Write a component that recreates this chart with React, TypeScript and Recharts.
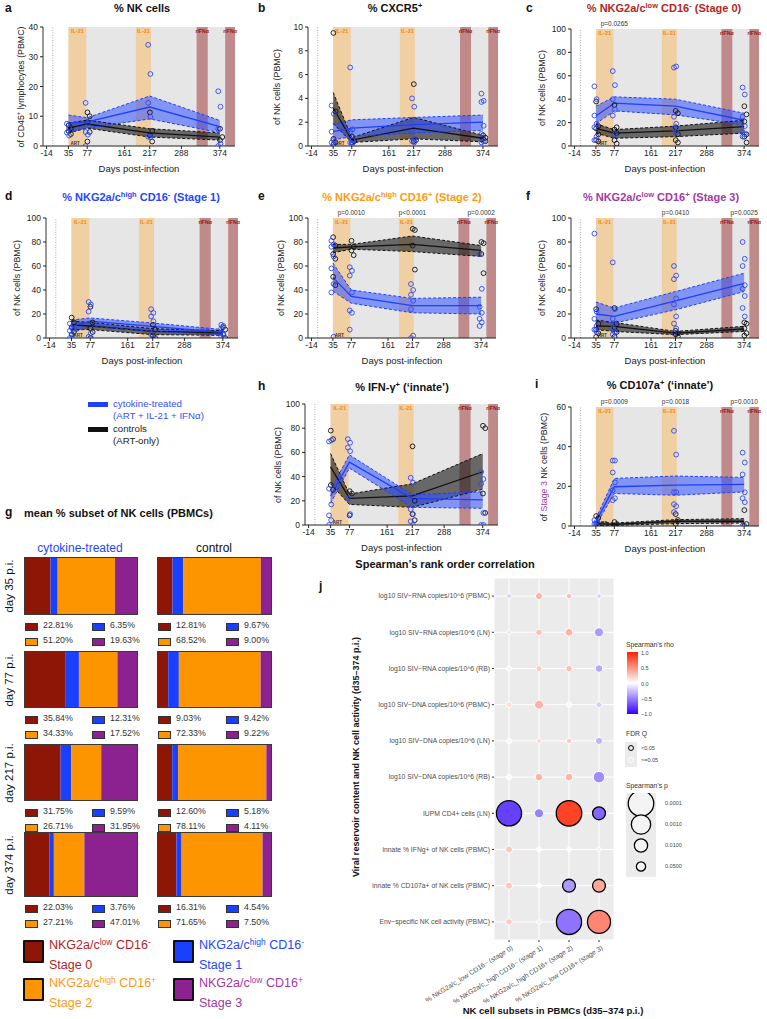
import React from "react";
import {
  ComposedChart,
  Area,
  Line,
  Scatter,
  XAxis,
  YAxis,
  ZAxis,
  ReferenceArea,
  ReferenceLine,
  ReferenceDot,
  BarChart,
  Bar,
  ScatterChart,
  CartesianGrid,
  Cell,
} from "recharts";

// ── Shared time axis ─────────────────────────────────────────────────────────

const daysPI = [35, 77, 217, 374];
const dayTicks = [-14, 35, 77, 161, 217, 288, 374];
const pDays = [77, 217, 374];
const il21Windows = [[35, 75], [186, 220]];
const ifnWindows = [[322, 347], [386, 408]];

// ── a: % NK cells ────────────────────────────────────────────────────────────
const aTreatedMean = [7.7, 8.1, 13.1, 6.5];
const aTreatedLo = [4.7, 6.0, 9.1, 4.5];
const aTreatedHi = [10.4, 9.5, 16.8, 8.6];
const aControlMean = [6.0, 7.4, 4.4, 3.0];
const aControlLo = [4.4, 6.0, 3.0, 2.0];
const aControlHi = [7.7, 8.7, 5.8, 4.4];
const aTreatedPts = [[7.5, 6, 4.5, 3.5], [14.5, 7.7, 4.7, 3.8, 0], [34, 24.2, 14.5, 9.8, 3.1, 3], [18.4, 13.2, 5.8, 0.8, 0]];
const aControlPts = [[7, 6, 5, 4], [11.3, 10, 8, 4.7, 1.5], [11.3, 5.1, 3.6, 1.5], [5.8, 3, 2]];

// ── b: % CXCR5+ ─────────────────────────────────────────────────────────────
const bTreatedMean = [1.2, 1.5, 1.8, 2.0];
const bTreatedLo = [0.5, 0.8, 1.1, 1.3];
const bTreatedHi = [1.8, 2.2, 2.4, 2.6];
const bControlMean = [3.2, 0.5, 1.5, 0.65];
const bControlLo = [1.9, 0.3, 0.6, 0.35];
const bControlHi = [4.5, 0.7, 2.4, 0.9];
const bTreatedPts = [[3.4, 2.7, 1.2, 0.5, 0.3, 0.2], [6.6, 1.4, 1.2, 0.5, 0.3, 0.2], [4.0, 3.3, 1.2, 0.6, 0.4, 0.3], [4.4, 3.8, 3.7, 1.7, 1.0, 0.4, 0.3]];
const bControlPts = [[9.5, 2.9, 0.6, 0.3, 0.1], [0.8, 0.4, 0.3], [5.2, 0.5, 0.4], [0.9, 0.7, 0.6, 0.4]];

// ── c: Stage 0 ───────────────────────────────────────────────────────────────
const cTreatedMean = [25.7, 36.6, 34, 22];
const cTreatedLo = [19, 30, 26.6, 18];
const cTreatedHi = [34, 42, 40, 28];
const cControlMean = [15, 11, 13, 16.6];
const cControlLo = [11, 6.6, 8, 11];
const cControlHi = [19, 14, 17, 22];
const cTreatedPts = [[51, 40, 26, 19, 16, 8, 5], [64, 52, 40, 31, 26, 10], [67, 68, 25, 19, 15, 12], [50, 44, 25, 17, 12, 10, 8]];
const cControlPts = [[38, 17, 15, 10, 5, 4], [35, 16, 14, 11, 5, 2], [30, 28, 16, 10, 5, 3], [34, 27, 21, 10, 8, 3]];
const cPvals = ["p=0.0265", "", ""];

// ── d: Stage 1 ───────────────────────────────────────────────────────────────
const dTreatedMean = [9.7, 14, 9.7, 4.7];
const dTreatedLo = [4, 9.7, 5.5, 2.8];
const dTreatedHi = [15, 16.7, 12.5, 7];
const dControlMean = [11, 10, 5.5, 4.2];
const dControlLo = [7, 7, 2.8, 2.2];
const dControlHi = [14, 13, 7.8, 6];
const dTreatedPts = [[12, 8, 6, 3, 0, 0], [30, 28, 22, 4, 1, 0], [24, 21, 18, 14, 3, 0], [11, 10, 8, 3, 1, 0]];
const dControlPts = [[17, 13, 9, 5, 3], [26, 13, 8, 5, 0], [11, 7, 2, 0], [9, 7, 3, 0]];

// ── e: Stage 2 ───────────────────────────────────────────────────────────────
const eTreatedMean = [50.5, 34.7, 27, 27];
const eTreatedLo = [39, 29, 21, 20];
const eTreatedHi = [62.5, 40, 33, 34];
const eControlMean = [75, 76, 78, 73];
const eControlLo = [71, 74, 72, 68];
const eControlHi = [78, 78, 85, 77];
const eTreatedPts = [[81, 78, 76, 68, 58, 45, 38, 1], [59, 56, 52, 38, 23, 21, 7], [45, 40, 36, 31, 24, 2, 0], [70, 41, 26, 21, 16, 13, 10]];
const eControlPts = [[84, 77, 70, 66, 51, 44], [81, 76, 73, 69], [91, 90, 77, 57], [80, 79, 70, 54]];
const ePvals = ["p=0.0010", "p<0.0001", "p=0.0002"];

// ── f: Stage 3 ───────────────────────────────────────────────────────────────
const fTreatedMean = [20, 18, 31, 45.6];
const fTreatedLo = [14, 12.4, 23.5, 38.7];
const fTreatedHi = [30, 25, 38.7, 54];
const fControlMean = [10, 9.7, 4, 7.5];
const fControlLo = [7, 5.5, 2.8, 5.5];
const fControlHi = [15, 13, 5.5, 9.7];
const fTreatedPts = [[87, 22, 16, 10, 7, 5], [63, 24, 16, 12, 8, 5, 3], [60, 52, 49, 33, 28, 18, 12, 8, 4], [80, 66, 60, 44, 41, 35, 25, 18]];
const fControlPts = [[24, 12, 7, 4, 1], [25, 12, 9, 5, 1], [6, 4, 3, 1], [13, 12, 8, 4, 2]];
const fPvals = ["", "p=0.0410", "p=0.0025"];

// ── h: IFN-γ+ ────────────────────────────────────────────────────────────────
const hTreatedMean = [24, 52, 22, 20.7];
const hTreatedLo = [18, 47, 14.6, 13.8];
const hTreatedHi = [29, 58, 25, 27.5];
const hControlMean = [48, 22, 24, 44];
const hControlLo = [34, 17, 14.6, 29.5];
const hControlHi = [59, 25.6, 34, 59];
const hTreatedPts = [[69, 70, 30, 17, 8, 4, 0], [71, 68, 64, 61, 22, 9], [39, 35, 13, 9, 3, 0], [44, 38, 34, 10, 0, 0]];
const hControlPts = [[78, 71, 33, 29], [28, 26, 8], [65, 20, 9, 4], [82, 80, 26, 10]];

// ── i: CD107a+ ───────────────────────────────────────────────────────────────
const iTreatedMean = [2, 19.8, 20.6, 21];
const iTreatedLo = [0.3, 16.4, 15.5, 17.2];
const iTreatedHi = [3.7, 24, 25.2, 24.5];
const iControlMean = [1.2, 0.8, 2.4, 2.4];
const iControlLo = [0.3, 0.3, 1.2, 1.5];
const iControlHi = [2, 1.5, 3.2, 3.7];
const iTreatedPts = [[3, 2, 1, 0], [33, 33, 27, 22, 18, 14, 13], [48, 36, 17, 17, 11, 10, 7], [37, 32, 26, 17, 14, 12, 0]];
const iControlPts = [[5, 4, 1, 0], [2, 1, 0], [6, 3, 1], [8, 1, 0]];
const iPvals = ["p=0.0009", "p=0.0018", "p=0.0010"];

// ── g: mean % subset (days 35, 77, 217, 374) ─────────────────────────────────
const subsetDays = ["day 35 p.i.", "day 77 p.i.", "day 217 p.i.", "day 374 p.i."];
const treatedStage0 = [22.81, 35.84, 31.75, 22.03];
const treatedStage1 = [6.35, 12.31, 9.59, 3.76];
const treatedStage2 = [51.2, 34.33, 26.71, 27.21];
const treatedStage3 = [19.63, 17.52, 31.95, 47.01];
const controlStage0 = [12.81, 9.03, 12.6, 16.31];
const controlStage1 = [9.67, 9.42, 5.18, 4.54];
const controlStage2 = [68.52, 72.33, 78.11, 71.65];
const controlStage3 = [9.0, 9.22, 4.11, 7.5];

// ── j: Spearman correlation ──────────────────────────────────────────────────
const corrRowLabels = [
  "log10 SIV\u2212RNA copies/10^6 (PBMC)",
  "log10 SIV\u2212RNA copies/10^6 (LN)",
  "log10 SIV\u2212RNA copies/10^6 (RB)",
  "log10 SIV\u2212DNA copies/10^6 (PBMC)",
  "log10 SIV\u2212DNA copies/10^6 (LN)",
  "log10 SIV\u2212DNA copies/10^6 (RB)",
  "IUPM CD4+ cells (LN)",
  "innate % IFNg+ of NK cells (PBMC)",
  "innate % CD107a+ of NK cells (PBMC)",
  "Env\u2212specific NK cell activity (PBMC)",
];
const corrColLabels = [
  "% NKG2a/c_low CD16\u2212 (stage 0)",
  "% NKG2a/c_high CD16\u2212 (stage 1)",
  "% NKG2a/c_high CD16+ (stage 2)",
  "% NKG2a/c_low CD16+ (stage 3)",
];
const rhoStage0 = [-0.2, -0.1, 0.05, 0.15, 0.03, 0.03, -0.75, 0.25, 0.25, 0.25];
const rhoStage1 = [0.35, 0.3, 0.25, 0.35, 0.2, 0.35, -0.5, 0.02, 0.02, 0.08];
const rhoStage2 = [0.3, 0.35, 0.3, 0.05, 0.25, 0.35, 0.85, 0.02, -0.4, -0.55];
const rhoStage3 = [-0.2, -0.4, -0.35, -0.2, -0.3, -0.45, -0.6, -0.05, 0.4, 0.55];
const pStage0 = [0.5, 0.9, 0.3, 0.22, 0.3, 0.3, 0.00008, 0.11, 0.11, 0.16];
const pStage1 = [0.12, 0.16, 0.22, 0.05, 0.5, 0.09, 0.048, 0.5, 0.5, 0.5];
const pStage2 = [0.26, 0.087, 0.16, 0.3, 0.3, 0.09, 0.00007, 0.5, 0.01, 0.00008];
const pStage3 = [0.5, 0.048, 0.09, 0.22, 0.11, 0.017, 0.01, 0.8, 0.01, 0.00018];
const fdrStage0 = [0, 0, 0, 0, 0, 0, 1, 0, 0, 0];
const fdrStage1 = [0, 0, 0, 0, 0, 0, 0, 0, 0, 0];
const fdrStage2 = [0, 0, 0, 0, 0, 0, 1, 0, 1, 1];
const fdrStage3 = [0, 0, 0, 0, 0, 0, 1, 0, 1, 1];
const sizeLegendP = [0.0001, 0.001, 0.01, 0.05];

// ── Styling ──────────────────────────────────────────────────────────────────

const FONT = '"Liberation Sans", Arial, Helvetica, sans-serif';
const BLUE = "#1f3fff";
const BLACK = "#111111";
const stageColors = ["#8e1607", "#1a40ff", "#fd9500", "#8c2290"];
const stageTextColors = ["#b3261e", "#2447ff", "#ff9a14", "#a3399f"];
const X_MIN = -22;
const X_MAX = 408;
const ML = 46, MT = 30, MB = 40, MR = 12;

function Sup({ children }: { children: React.ReactNode }) {
  return <span style={{ fontSize: "0.68em", verticalAlign: "0.55em" }}>{children}</span>;
}

function T({ x, y, children, style, anchor = 0 }: { x: number; y: number; children: React.ReactNode; style?: React.CSSProperties; anchor?: number }) {
  return (
    <div style={{ position: "absolute", left: x, top: y, transform: `translate(${-anchor * 100}%, -50%)`, whiteSpace: "nowrap", lineHeight: 1.1, ...style }}>
      {children}
    </div>
  );
}

function VT({ x, y, children, style }: { x: number; y: number; children: React.ReactNode; style?: React.CSSProperties }) {
  return (
    <div style={{ position: "absolute", left: x, top: y, width: 0, height: 0 }}>
      <div style={{ position: "absolute", left: 0, top: 0, transform: "translate(-50%, -50%) rotate(-90deg)", whiteSpace: "nowrap", lineHeight: 1.1, ...style }}>
        {children}
      </div>
    </div>
  );
}

// ── Time-course panel ────────────────────────────────────────────────────────

interface PanelSpec {
  letter: string; letterX: number; letterY: number;
  title: React.ReactNode; titleColor: string; titleX: number; titleY: number;
  plotLeft: number; plotTop: number; plotW: number; plotH: number;
  yMax: number; yTicks: number[]; yTitle: React.ReactNode; yTitleGap: number;
  tMean: number[]; tLo: number[]; tHi: number[];
  cMean: number[]; cLo: number[]; cHi: number[];
  tPts: number[][]; cPts: number[][]; pLabels: string[];
}

function spread(groups: number[][], shift: number) {
  const out: { x: number; y: number }[] = [];
  groups.forEach((vals, t) =>
    vals.forEach((v, k) => out.push({ x: daysPI[t] + shift + (k % 2 ? 2.5 : -2.5), y: v }))
  );
  return out;
}

const openCircle = (color: string) => (p: any) =>
  <circle cx={p.cx} cy={p.cy} r={2.4} fill="none" stroke={color} strokeWidth={0.9} />;

function TimePanel({ s }: { s: PanelSpec }) {
  const rows = daysPI.map((d, i) => ({
    x: d,
    tMean: s.tMean[i], tLo: s.tLo[i], tHi: s.tHi[i], tBand: [s.tLo[i], s.tHi[i]],
    cMean: s.cMean[i], cLo: s.cLo[i], cHi: s.cHi[i], cBand: [s.cLo[i], s.cHi[i]],
  }));
  const tPts = spread(s.tPts, -1);
  const cPts = spread(s.cPts, 3);
  const W = ML + s.plotW + MR;
  const H = MT + s.plotH + MB;
  const tick = { fontSize: 8.5, fill: "#222", fontFamily: FONT };
  return (
    <>
      <T x={s.letterX} y={s.letterY} style={{ fontWeight: 700, fontSize: 12 }}>{s.letter}</T>
      <T x={s.titleX} y={s.titleY} anchor={0.5} style={{ fontWeight: 700, fontSize: 11, color: s.titleColor }}>{s.title}</T>
      <VT x={s.plotLeft - s.yTitleGap} y={s.plotTop + s.plotH / 2} style={{ fontSize: 8.8, color: "#222" }}>{s.yTitle}</VT>
      <div style={{ position: "absolute", left: s.plotLeft - ML, top: s.plotTop - MT }}>
        <ComposedChart width={W} height={H} data={rows} margin={{ top: MT, right: MR, bottom: 0, left: 0 }}>
          <XAxis
            type="number" dataKey="x" domain={[X_MIN, X_MAX]} ticks={dayTicks} interval={0} allowDataOverflow
            height={MB} tickSize={3} tickMargin={1} tick={tick}
            axisLine={{ stroke: "#222" }} tickLine={{ stroke: "#222" }}
            label={{ value: "Days post-infection", position: "insideBottom", offset: 14, fontSize: 9.5, fill: "#222", fontFamily: FONT }}
          />
          <YAxis
            type="number" domain={[0, s.yMax]} ticks={s.yTicks} interval={0} allowDataOverflow
            width={ML} tickSize={3} tick={tick} axisLine={{ stroke: "#333" }} tickLine={{ stroke: "#222" }}
          />
          <ReferenceArea x1={35} x2={X_MAX} y1={0} y2={s.yMax} fill="#e6e6e6" fillOpacity={1} stroke="none" />
          {il21Windows.map(([a, b], k) => (
            <ReferenceArea key={"il" + k} x1={a} x2={b} y1={0} y2={s.yMax} fill="#f0cfa3" fillOpacity={1} stroke="none"
              label={{ value: "IL-21", position: "insideTop", offset: 2, fill: "#f08a0c", fontSize: 5.5, fontWeight: 700, fontFamily: FONT }} />
          ))}
          {ifnWindows.map(([a, b], k) => (
            <ReferenceArea key={"ifn" + k} x1={a} x2={b} y1={0} y2={s.yMax} fill="#bf8a89" fillOpacity={1} stroke="none"
              label={{ value: "rIFN\u03b1", position: "insideTop", offset: 2, fill: "#951717", fontSize: 5.2, fontWeight: 700, fontFamily: FONT }} />
          ))}
          <ReferenceLine x={0} stroke="#9a9a9a" strokeWidth={0.8} strokeDasharray="1 1.5" />
          <ReferenceDot x={50} y={0} r={0.1} fill="none" stroke="none"
            label={{ value: "ART", position: "top", offset: 1, fontSize: 4.5, fontWeight: 700, fill: "#333", fontFamily: FONT }} />
          <Area type="linear" dataKey="cBand" fill="#1a1a1a" fillOpacity={0.62} stroke="none" isAnimationActive={false} />
          <Area type="linear" dataKey="tBand" fill="#3050ff" fillOpacity={0.55} stroke="none" isAnimationActive={false} />
          <Line type="linear" dataKey="cHi" stroke={BLACK} strokeWidth={1} strokeDasharray="3 2" dot={false} isAnimationActive={false} />
          <Line type="linear" dataKey="cLo" stroke={BLACK} strokeWidth={1} strokeDasharray="3 2" dot={false} isAnimationActive={false} />
          <Line type="linear" dataKey="cMean" stroke={BLACK} strokeWidth={1.3} dot={false} isAnimationActive={false} />
          <Line type="linear" dataKey="tHi" stroke={BLUE} strokeWidth={1} strokeDasharray="3 2" dot={false} isAnimationActive={false} />
          <Line type="linear" dataKey="tLo" stroke={BLUE} strokeWidth={1} strokeDasharray="3 2" dot={false} isAnimationActive={false} />
          <Line type="linear" dataKey="tMean" stroke={BLUE} strokeWidth={1.3} dot={false} isAnimationActive={false} />
          <Scatter data={cPts} dataKey="y" shape={openCircle("#111")} isAnimationActive={false} />
          <Scatter data={tPts} dataKey="y" shape={openCircle("#2a48ff")} isAnimationActive={false} />
          {s.pLabels.map((p, k) =>
            p ? (
              <ReferenceDot key={"p" + k} x={pDays[k]} y={s.yMax} r={0.1} fill="none" stroke="none"
                label={{ value: p, position: "top", offset: 3, fontSize: 6.5, fill: "#333", fontFamily: FONT }} />
            ) : null
          )}
        </ComposedChart>
      </div>
    </>
  );
}

const yNK = "of NK cells (PBMC)";
const t100 = [0, 20, 40, 60, 80, 100];

const panels: PanelSpec[] = [
  {
    letter: "a", letterX: 5, letterY: 9, title: "% NK cells", titleColor: "#111", titleX: 142, titleY: 8,
    plotLeft: 43, plotTop: 27, plotW: 192, plotH: 119, yMax: 40, yTicks: [0, 10, 20, 30, 40],
    yTitle: <span>of CD45<Sup>+</Sup> lymphocytes (PBMC)</span>, yTitleGap: 22,
    tMean: aTreatedMean, tLo: aTreatedLo, tHi: aTreatedHi, cMean: aControlMean, cLo: aControlLo, cHi: aControlHi,
    tPts: aTreatedPts, cPts: aControlPts, pLabels: [],
  },
  {
    letter: "b", letterX: 258, letterY: 9, title: <span>% CXCR5<Sup>+</Sup></span>, titleColor: "#111", titleX: 395, titleY: 8,
    plotLeft: 308, plotTop: 27, plotW: 190, plotH: 119, yMax: 10, yTicks: [0, 2, 4, 6, 8, 10],
    yTitle: yNK, yTitleGap: 30,
    tMean: bTreatedMean, tLo: bTreatedLo, tHi: bTreatedHi, cMean: bControlMean, cLo: bControlLo, cHi: bControlHi,
    tPts: bTreatedPts, cPts: bControlPts, pLabels: [],
  },
  {
    letter: "c", letterX: 526, letterY: 9, title: <span>% NKG2a/c<Sup>low</Sup> CD16<Sup>-</Sup> (Stage 0)</span>, titleColor: "#b3261e", titleX: 664, titleY: 8,
    plotLeft: 571, plotTop: 29, plotW: 188, plotH: 117, yMax: 100, yTicks: t100,
    yTitle: yNK, yTitleGap: 28,
    tMean: cTreatedMean, tLo: cTreatedLo, tHi: cTreatedHi, cMean: cControlMean, cLo: cControlLo, cHi: cControlHi,
    tPts: cTreatedPts, cPts: cControlPts, pLabels: cPvals,
  },
  {
    letter: "d", letterX: 5, letterY: 197, title: <span>% NKG2a/c<Sup>high</Sup> CD16<Sup>-</Sup> (Stage 1)</span>, titleColor: "#2447ff", titleX: 141, titleY: 197,
    plotLeft: 46, plotTop: 218, plotW: 192, plotH: 120, yMax: 100, yTicks: t100,
    yTitle: yNK, yTitleGap: 28,
    tMean: dTreatedMean, tLo: dTreatedLo, tHi: dTreatedHi, cMean: dControlMean, cLo: dControlLo, cHi: dControlHi,
    tPts: dTreatedPts, cPts: dControlPts, pLabels: [],
  },
  {
    letter: "e", letterX: 258, letterY: 197, title: <span>% NKG2a/c<Sup>high</Sup> CD16<Sup>+</Sup> (Stage 2)</span>, titleColor: "#ff9a14", titleX: 402, titleY: 197,
    plotLeft: 308, plotTop: 218, plotW: 188, plotH: 120, yMax: 100, yTicks: t100,
    yTitle: yNK, yTitleGap: 26,
    tMean: eTreatedMean, tLo: eTreatedLo, tHi: eTreatedHi, cMean: eControlMean, cLo: eControlLo, cHi: eControlHi,
    tPts: eTreatedPts, cPts: eControlPts, pLabels: ePvals,
  },
  {
    letter: "f", letterX: 526, letterY: 197, title: <span>% NKG2a/c<Sup>low</Sup> CD16<Sup>+</Sup> (Stage 3)</span>, titleColor: "#a3399f", titleX: 661, titleY: 197,
    plotLeft: 571, plotTop: 218, plotW: 188, plotH: 120, yMax: 100, yTicks: t100,
    yTitle: yNK, yTitleGap: 28,
    tMean: fTreatedMean, tLo: fTreatedLo, tHi: fTreatedHi, cMean: fControlMean, cLo: fControlLo, cHi: fControlHi,
    tPts: fTreatedPts, cPts: fControlPts, pLabels: fPvals,
  },
  {
    letter: "h", letterX: 258, letterY: 387, title: <span>% IFN-{"\u03b3"}<Sup>+</Sup> ({"\u2018"}innate{"\u2019"})</span>, titleColor: "#111", titleX: 402, titleY: 387,
    plotLeft: 305, plotTop: 404, plotW: 193, plotH: 121, yMax: 100, yTicks: t100,
    yTitle: yNK, yTitleGap: 26,
    tMean: hTreatedMean, tLo: hTreatedLo, tHi: hTreatedHi, cMean: hControlMean, cLo: hControlLo, cHi: hControlHi,
    tPts: hTreatedPts, cPts: hControlPts, pLabels: [],
  },
  {
    letter: "i", letterX: 535, letterY: 385, title: <span>% CD107a<Sup>+</Sup> ({"\u2018"}innate{"\u2019"})</span>, titleColor: "#111", titleX: 660, titleY: 385,
    plotLeft: 571, plotTop: 407, plotW: 188, plotH: 119, yMax: 60, yTicks: [0, 20, 40, 60],
    yTitle: <span>of <span style={{ color: "#a3399f" }}>Stage 3</span> NK cells (PBMC)</span>, yTitleGap: 26,
    tMean: iTreatedMean, tLo: iTreatedLo, tHi: iTreatedHi, cMean: iControlMean, cLo: iControlLo, cHi: iControlHi,
    tPts: iTreatedPts, cPts: iControlPts, pLabels: iPvals,
  },
];

// ── g: stacked subset bars ───────────────────────────────────────────────────

const stageKeys = ["s0", "s1", "s2", "s3"];
const barTops = [558, 652, 745, 833];
const barHeights = [56, 55, 55, 63];

function SubsetBar({ values, width, height }: { values: number[]; width: number; height: number }) {
  const data = [{ name: "mean", s0: values[0], s1: values[1], s2: values[2], s3: values[3] }];
  return (
    <BarChart width={width} height={height} data={data} layout="vertical" margin={{ top: 0, right: 0, bottom: 0, left: 0 }} barCategoryGap={0}>
      <XAxis type="number" domain={[0, 100]} allowDataOverflow hide />
      <YAxis type="category" dataKey="name" hide />
      {stageKeys.map((k, i) => (
        <Bar key={k} dataKey={k} stackId="a" fill={stageColors[i]} isAnimationActive={false} />
      ))}
    </BarChart>
  );
}

function PctItem({ x, y, color, value }: { x: number; y: number; color: string; value: number }) {
  return (
    <>
      <div style={{ position: "absolute", left: x, top: y - 3.5, width: 11, height: 6, background: color, border: "1px solid #333" }} />
      <T x={x + 18} y={y} style={{ fontSize: 8.8, color: "#333" }}>{value.toFixed(2)}%</T>
    </>
  );
}

function SubsetPanel() {
  const groups = [
    { left: 25, width: 112, stages: [treatedStage0, treatedStage1, treatedStage2, treatedStage3], col2: 92 },
    { left: 158, width: 113, stages: [controlStage0, controlStage1, controlStage2, controlStage3], col2: 226 },
  ];
  return (
    <>
      <T x={5} y={513} style={{ fontWeight: 700, fontSize: 12 }}>g</T>
      <T x={24} y={513} style={{ fontWeight: 700, fontSize: 11 }}>mean % subset of NK cells (PBMCs)</T>
      <T x={80} y={549} anchor={0.5} style={{ fontSize: 12, color: "#2447ff" }}>cytokine-treated</T>
      <T x={214} y={549} anchor={0.5} style={{ fontSize: 12, color: "#111" }}>control</T>
      {subsetDays.map((label, d) => (
        <VT key={label} x={9} y={barTops[d] + barHeights[d] / 2} style={{ fontSize: 11.5, color: "#111" }}>{label}</VT>
      ))}
      {groups.map((g, gi) =>
        subsetDays.map((_, d) => {
          const vals = g.stages.map((arr) => arr[d]);
          const bottom = barTops[d] + barHeights[d];
          return (
            <React.Fragment key={gi + "-" + d}>
              <div style={{ position: "absolute", left: g.left, top: barTops[d], height: barHeights[d], outline: "1.3px solid #3a3a3a" }}>
                <SubsetBar values={vals} width={g.width} height={barHeights[d]} />
              </div>
              <PctItem x={g.left} y={bottom + 12} color={stageColors[0]} value={vals[0]} />
              <PctItem x={g.col2} y={bottom + 12} color={stageColors[1]} value={vals[1]} />
              <PctItem x={g.left} y={bottom + 27} color={stageColors[2]} value={vals[2]} />
              <PctItem x={g.col2} y={bottom + 27} color={stageColors[3]} value={vals[3]} />
            </React.Fragment>
          );
        })
      )}
      {[
        { x: 23, y: 940, i: 0, l1: <span>NKG2a/c<Sup>low</Sup> CD16<Sup>-</Sup></span> },
        { x: 173, y: 940, i: 1, l1: <span>NKG2a/c<Sup>high</Sup> CD16<Sup>-</Sup></span> },
        { x: 23, y: 978, i: 2, l1: <span>NKG2a/c<Sup>high</Sup> CD16<Sup>+</Sup></span> },
        { x: 173, y: 978, i: 3, l1: <span>NKG2a/c<Sup>low</Sup> CD16<Sup>+</Sup></span> },
      ].map((it) => (
        <React.Fragment key={it.i}>
          <div style={{ position: "absolute", left: it.x, top: it.y, width: 17, height: 19, background: stageColors[it.i], border: "2px solid #111", borderRadius: 1 }} />
          <T x={it.x + 26} y={it.y + 5} style={{ fontSize: 12.5, color: stageTextColors[it.i] }}>{it.l1}</T>
          <T x={it.x + 26} y={it.y + 26} style={{ fontSize: 12.5, color: stageTextColors[it.i] }}>Stage {it.i}</T>
        </React.Fragment>
      ))}
    </>
  );
}

// ── j: bubble correlation matrix ─────────────────────────────────────────────

function rhoColor(r: number) {
  const t = Math.min(1, Math.abs(r));
  const end = r >= 0 ? [255, 34, 0] : [51, 0, 255];
  const c = end.map((e) => Math.round(255 + (e - 255) * t));
  return `rgb(${c.join(",")})`;
}

const pToZ = (p: number) => Math.pow(Math.log10(1 / p), 2);

const corrData: { col: number; row: number; rho: number; z: number; sig: number }[] = [];
[rhoStage0, rhoStage1, rhoStage2, rhoStage3].forEach((rhos, c) => {
  const ps = [pStage0, pStage1, pStage2, pStage3][c];
  const sig = [fdrStage0, fdrStage1, fdrStage2, fdrStage3][c];
  rhos.forEach((rho, r) => corrData.push({ col: c + 1, row: r + 1, rho, z: pToZ(ps[r]), sig: sig[r] }));
});

const sizeLegendData = sizeLegendP.map((p, k) => ({ col: 1, row: k + 1, z: pToZ(p) }));

function ColTick(props: any) {
  const { x, y, payload } = props;
  return (
    <g transform={`translate(${x + 3},${y + 3})`}>
      <text transform="rotate(-32)" textAnchor="end" dy="0.35em" fontSize={6.8} fill="#4d4d4d" fontFamily={FONT}>
        {corrColLabels[payload.value - 1]}
      </text>
    </g>
  );
}

function RowTick(props: any) {
  const { x, y, payload } = props;
  return (
    <text x={x} y={y} dy="0.35em" textAnchor="end" fontSize={6.8} fill="#4d4d4d" fontFamily={FONT}>
      {corrRowLabels[payload.value - 1]}
    </text>
  );
}

function SizeTick(props: any) {
  const { x, y, payload } = props;
  return (
    <text x={x} y={y} dy="0.35em" textAnchor="start" fontSize={5.5} fill="#444" fontFamily={FONT}>
      {sizeLegendP[payload.value - 1].toFixed(4)}
    </text>
  );
}

function CorrPanel() {
  return (
    <>
      <T x={445} y={564} anchor={0.5} style={{ fontWeight: 700, fontSize: 11 }}>Spearman{"\u2019"}s rank order correlation</T>
      <T x={319} y={587} style={{ fontWeight: 700, fontSize: 12 }}>j</T>
      <VT x={357} y={757} style={{ fontWeight: 700, fontSize: 9 }}>Viral reservoir content and NK cell activity (d35{"\u2013"}374 p.i.)</VT>
      <T x={553} y={1011} anchor={0.5} style={{ fontWeight: 700, fontSize: 9.5 }}>NK cell subsets in PBMCs (d35{"\u2013"}374 p.i.)</T>
      <div style={{ position: "absolute", left: 270, top: 560 }}>
        <ScatterChart width={360} height={459} margin={{ top: 18, right: 16, bottom: 14, left: 0 }}>
          <CartesianGrid fill="#ebebeb" stroke="#ffffff" strokeWidth={1} />
          <XAxis type="number" dataKey="col" domain={[0.5, 4.5]} ticks={[1, 2, 3, 4]} interval={0} height={65}
            tick={<ColTick />} tickSize={2} tickLine={{ stroke: "#333" }} axisLine={false} />
          <YAxis type="number" dataKey="row" domain={[0.5, 10.5]} reversed ticks={[1, 2, 3, 4, 5, 6, 7, 8, 9, 10]} interval={0}
            width={224} tickSize={2} tickMargin={2} tickLine={{ stroke: "#333" }} axisLine={false} tick={<RowTick />} />
          <ZAxis type="number" dataKey="z" domain={[0, 16]} range={[15, 511]} />
          <Scatter data={corrData} isAnimationActive={false}>
            {corrData.map((d, k) => (
              <Cell key={k} fill={rhoColor(d.rho)} stroke={d.sig ? "#000" : "#fff"} strokeWidth={d.sig ? 1.3 : 1} />
            ))}
          </Scatter>
        </ScatterChart>
      </div>

      {/* rho colour bar */}
      <T x={626} y={645} style={{ fontSize: 6.8, color: "#333" }}>Spearman{"\u2019"}s rho</T>
      <div style={{ position: "absolute", left: 627, top: 652, width: 11, height: 62, background: "linear-gradient(to bottom, #ff2200, #ffffff 50%, #3300ff)" }} />
      {["1.0", "0.5", "0.0", "\u22120.5", "\u22121.0"].map((lab, k) => (
        <T key={lab} x={641} y={653 + k * 15.3} style={{ fontSize: 5.5, color: "#444" }}>{lab}</T>
      ))}

      {/* FDR legend */}
      <T x={626} y={734} style={{ fontSize: 6.8, color: "#333" }}>FDR Q</T>
      <div style={{ position: "absolute", left: 625, top: 742, width: 12, height: 25, background: "#ebebeb" }} />
      <div style={{ position: "absolute", left: 628, top: 745, width: 4, height: 4, borderRadius: 3, border: "1.5px solid #000", background: "#ebebeb" }} />
      <div style={{ position: "absolute", left: 628, top: 757, width: 4, height: 4, borderRadius: 3, border: "1.5px solid #fff", background: "#ebebeb" }} />
      <T x={641} y={748} style={{ fontSize: 5.5, color: "#444" }}>{"<0.05"}</T>
      <T x={641} y={760} style={{ fontSize: 5.5, color: "#444" }}>{">=0.05"}</T>

      {/* size legend */}
      <T x={626} y={786} style={{ fontSize: 6.8, color: "#333" }}>Spearman{"\u2019"}s p</T>
      <div style={{ position: "absolute", left: 626, top: 793, width: 30, height: 84, background: "#ebebeb" }} />
      <div style={{ position: "absolute", left: 626, top: 793 }}>
        <ScatterChart width={64} height={84} margin={{ top: 0, right: 0, bottom: 0, left: 0 }}>
          <XAxis type="number" dataKey="col" domain={[0, 2]} hide />
          <YAxis type="number" dataKey="row" domain={[0.5, 4.5]} reversed orientation="right" ticks={[1, 2, 3, 4]} interval={0}
            width={34} axisLine={false} tickLine={false} tickMargin={3} tick={<SizeTick />} />
          <ZAxis type="number" dataKey="z" domain={[0, 16]} range={[15, 511]} />
          <Scatter data={sizeLegendData} fill="#f4f4f4" stroke="#000" strokeWidth={1.3} isAnimationActive={false} />
        </ScatterChart>
      </div>
    </>
  );
}

// ── Line legend (cytokine vs control) ────────────────────────────────────────

function GroupLegend() {
  return (
    <>
      <div style={{ position: "absolute", left: 88, top: 402, width: 20, height: 5, background: "#2040ff" }} />
      <T x={113} y={404} style={{ fontSize: 9.7, color: "#3352ff" }}>cytokine-treated</T>
      <T x={113} y={416} style={{ fontSize: 9.7, color: "#3352ff" }}>(ART + IL-21 + IFN{"\u03b1"})</T>
      <div style={{ position: "absolute", left: 88, top: 427, width: 20, height: 5, background: "#111" }} />
      <T x={113} y={429} style={{ fontSize: 9.7, color: "#222" }}>controls</T>
      <T x={113} y={441} style={{ fontSize: 9.7, color: "#222" }}>(ART-only)</T>
    </>
  );
}

export default function App() {
  return (
    <div style={{ position: "absolute", left: 0, top: 0, width: 767, height: 1019, overflow: "hidden", background: "#fff", fontFamily: FONT, color: "#111" }}>
      {panels.map((s) => (
        <TimePanel key={s.letter} s={s} />
      ))}
      <GroupLegend />
      <SubsetPanel />
      <CorrPanel />
    </div>
  );
}
